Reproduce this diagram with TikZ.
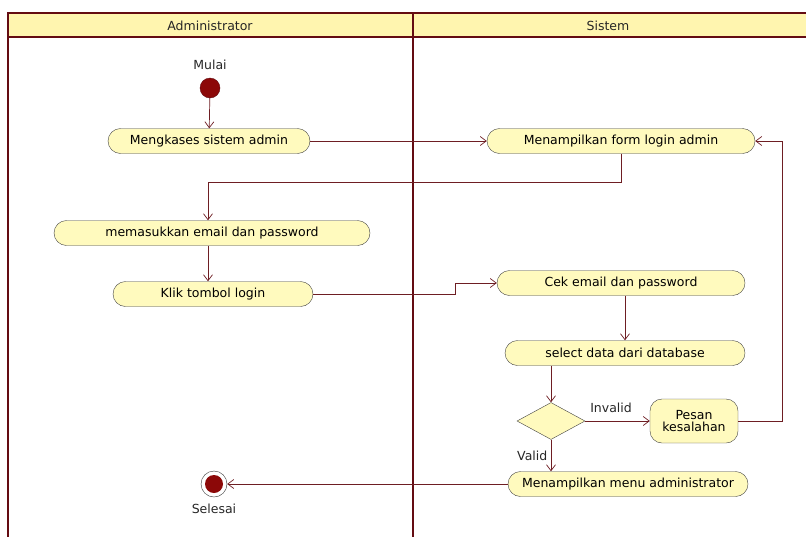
\documentclass[tikz,border=0pt]{standalone}
\usepackage{fontspec}
\setmainfont{DejaVu Sans}
\usetikzlibrary{arrows.meta}
\usetikzlibrary{shapes.geometric}
\usetikzlibrary{positioning}

\definecolor{lanered}{RGB}{100,12,18}
\definecolor{flowred}{RGB}{110,30,35}
\definecolor{actfill}{RGB}{255,250,190}
\definecolor{headfill}{RGB}{255,245,175}
\definecolor{dotred}{RGB}{140,8,8}

\begin{document}
\begin{tikzpicture}[x=1pt, y=-1pt, >={Straight Barb[length=6pt, width=9pt]}]
    \tikzset{
        action/.style={draw=black!75, fill=actfill, rounded corners=12.5pt,
            minimum height=25pt, inner sep=0pt, font=\fontsize{12.5}{14}\selectfont},
        flow/.style={draw=flowred, ->, line width=0.7pt},
        lbl/.style={font=\fontsize{12.5}{14}\selectfont, text=black!85}
    }
    \useasboundingbox (0,0) rectangle (806,536);

    % swimlanes
    \fill[headfill] (8,13) rectangle (810,37);
    \draw[lanered, line width=2pt] (8,540) -- (8,13) -- (810,13);
    \draw[lanered, line width=1.5pt] (8,37) -- (810,37);
    \draw[lanered, line width=2.5pt] (413,13) -- (413,540);
    \node[lbl] (lane1) at (210,26) {Administrator};
    \node[lbl] (lane2) at (608,26) {Sistem};

    % start and end
    \node[circle, fill=dotred, draw=lanered, minimum size=20pt, inner sep=0pt] (start) at (210,88) {};
    \node[lbl, above=5pt of start] (mulai) {Mulai};
    \node[circle, draw=black!80, fill=white, minimum size=26pt, inner sep=0pt] (stop) at (214,484) {};
    \fill[dotred] (stop.center) circle (9pt);
    \node[lbl, below=3pt of stop] (selesai) {Selesai};

    % activities
    \node[action, minimum width=202pt] (a1) at (209,141) {Mengkases sistem admin};
    \node[action, minimum width=268pt] (a2) at (621,141) {Menampilkan form login admin};
    \node[action, minimum width=316pt] (a3) at (212,233) {memasukkan email dan password};
    \node[action, minimum width=200pt] (a4) at (213,294) {Klik tombol login};
    \node[action, minimum width=248pt] (a5) at (621,283) {Cek email dan password};
    \node[action, minimum width=240pt] (a6) at (625,353) {select data dari database};
    \node[diamond, draw=black!75, fill=actfill, minimum width=68pt, minimum height=37pt,
        inner sep=0pt, aspect=1.8] (cek) at (551,421) {};
    \node[action, minimum width=88pt, minimum height=44pt, rounded corners=12pt,
        align=center] (pesan) at (694,421) {Pesan\\[-2pt]kesalahan};
    \node[action, minimum width=240pt] (a7) at (628,484) {Menampilkan menu administrator};

    % flows
    \draw[flow] (start) -- (a1);
    \draw[flow] (a1) -- (a2);
    \draw[flow] (a2.south) -- ++(0,29) -| (a3.north -| 208,0);
    \draw[flow] (a3.south -| 208,0) -- (a4.north -| 208,0);
    \draw[flow] (a4.east) -- ++(142,0) |- (a5.west);
    \draw[flow] (a5.south -| 625,0) -- (a6.north);
    \draw[flow] (a6.south -| cek.north) -- (cek.north);
    \draw[flow] (cek.east) -- node[lbl, above=5pt, pos=0.4] {Invalid} (pesan.west);
    \draw[flow] (pesan.east) -- ++(44,0) |- (a2.east);
    \draw[flow] (cek.south) -- node[lbl, left=0pt] {Valid} (a7.north -| cek.south);
    \draw[flow] (a7.west) -- (stop);

\end{tikzpicture}
\end{document}
